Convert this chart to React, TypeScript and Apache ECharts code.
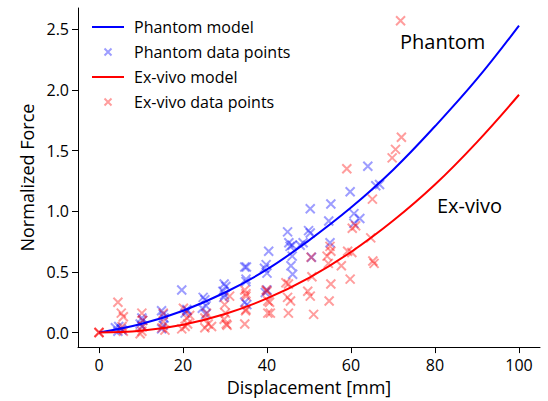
import React, { useEffect, useRef } from "react";
import * as echarts from "echarts";

const modelX = [0, 10, 20, 30, 40, 50, 60, 70, 80, 90, 100];
const phantomModel = [0, 0.07, 0.18, 0.33, 0.52, 0.76, 1.03, 1.34, 1.7, 2.09, 2.53];
const exvivoModel = [0, 0.015, 0.065, 0.153, 0.281, 0.451, 0.664, 0.921, 1.22, 1.57, 1.96];

const phantomPoints: [number, number][] = [
  [3.9, 0.04], [4.5, 0.01], [4.7, 0.05], [5.3, 0.03], [5.5, 0.02],
  [10.2, 0.12], [10.4, 0.1], [10.2, 0.05], [9.8, 0.07],
  [14.9, 0.18], [15.3, 0.15], [15.3, 0.06], [14.9, 0.03], [15.5, 0.12],
  [19.7, 0.35], [20.5, 0.16], [21, 0.18], [20.9, 0.19],
  [24.8, 0.29], [25.2, 0.27], [25.4, 0.15], [24.6, 0.2], [25.5, 0.22],
  [29.8, 0.4], [30.2, 0.38], [29.9, 0.31], [29.5, 0.34], [29.7, 0.29],
  [35.1, 0.54], [34.7, 0.54], [35, 0.44], [35, 0.42], [34.7, 0.25], [35.2, 0.23],
  [40.4, 0.67], [39.8, 0.56], [39.4, 0.53], [40, 0.49], [39.6, 0.33], [40, 0.35],
  [44.9, 0.83], [45.2, 0.74], [46, 0.72], [45.5, 0.71], [46, 0.63], [45.7, 0.55], [46.1, 0.48],
  [50.3, 1.02], [49.9, 0.84], [50.3, 0.82], [47.9, 0.72], [48.6, 0.74], [50.6, 0.62],
  [55.2, 1.06], [54.7, 0.92], [55, 0.74],
  [59.8, 1.16], [60.7, 0.98], [62.1, 0.94], [60.7, 0.9],
  [64, 1.37], [65.9, 1.21], [66.8, 1.22],
];

const exvivoPoints: [number, number][] = [
  [0, 0], [0, 0], [0, 0],
  [4.5, 0.25], [5.3, 0.16], [5.8, 0.13], [5.5, 0.05], [5.8, 0.01],
  [10.2, 0.16], [10.4, 0.1], [10.2, 0.01], [9.8, -0.01], [10.4, 0.05],
  [15.3, 0.09], [15, 0.04], [15.7, 0.02], [15.3, 0.16],
  [20.1, 0.2], [20.5, 0.05], [21.1, 0.07], [19.7, 0.03], [20.9, 0.12], [21.6, 0.14],
  [25.6, 0.16], [26, 0.07], [25.2, 0.04], [26.8, 0.05], [25.2, 0.12],
  [29.9, 0.23], [30.1, 0.16], [29.8, 0.11], [30.3, 0.07], [31.1, 0.3], [30.5, 0.06],
  [34.7, 0.35], [35, 0.32], [35, 0.19], [34.7, 0.07], [34.9, 0.18], [35, 0.3],
  [40, 0.34], [40.2, 0.26], [40.6, 0.25], [40.8, 0.16], [39.8, 0.35], [40.2, 0.16],
  [45.1, 0.4], [44.9, 0.29], [45.6, 0.26], [45.1, 0.16], [44.5, 0.41],
  [50.5, 0.62], [50.7, 0.46], [49.7, 0.34], [50.3, 0.3], [51.1, 0.15],
  [55, 0.71], [55.2, 0.67], [54.3, 0.63], [54.6, 0.57], [55.2, 0.4], [54.8, 0.26],
  [59, 1.35], [60.3, 0.86], [61.1, 0.88], [59.2, 0.67], [60.2, 0.66], [57.7, 0.55], [59.8, 0.44],
  [65.1, 1.1], [64.7, 0.78], [65.5, 0.57], [65.2, 0.59],
  [69.8, 1.44], [70.6, 1.51], [72, 1.61], [71.8, 2.57],
];

const xTicks = [0, 20, 40, 60, 80, 100];
const yTicks = [0, 0.5, 1.0, 1.5, 2.0, 2.5];

const FONT = "Open Sans";
const X_PATH = "path://M0,0L10,10M10,0L0,10";
const X_LEGEND = "path://M0,0M32,14M12.5,3.5L19.5,10.5M19.5,3.5L12.5,10.5";
const LINE_LEGEND = "path://M0,0M32,14M0,6L32,6L32,8L0,8Z";
const BLUE_PT = "rgba(0,0,255,0.48)";
const RED_PT = "rgba(255,0,0,0.48)";

export default function App() {
  const ref = useRef<HTMLDivElement>(null);
  useEffect(() => {
    document.body.style.margin = "0";
    if (!ref.current) return;
    const chart = echarts.init(ref.current, undefined, { renderer: "svg" });
    chart.setOption({
      animation: false,
      textStyle: { fontFamily: FONT },
      grid: { left: 78, right: 8, top: 8, bottom: 50, containLabel: false },
      legend: {
        orient: "vertical",
        left: 91,
        top: 19,
        padding: 0,
        itemWidth: 32,
        itemHeight: 14,
        itemGap: 9,
        textStyle: { fontFamily: FONT, fontSize: 16, color: "#000", padding: [0, 0, 0, 5], lineHeight: 14 },
        data: [
          { name: "Phantom model", icon: LINE_LEGEND, itemStyle: { color: "#0000ff" } },
          { name: "Phantom data points", icon: X_LEGEND },
          { name: "Ex-vivo model", icon: LINE_LEGEND, itemStyle: { color: "#ff0000" } },
          { name: "Ex-vivo data points", icon: X_LEGEND },
        ],
      },
      xAxis: {
        type: "value",
        min: -5,
        max: 105,
        name: "Displacement [mm]",
        nameLocation: "middle",
        nameGap: 21,
        nameTextStyle: { fontFamily: FONT, fontSize: 18, color: "#000" },
        splitLine: { show: false },
        axisLine: { show: true, onZero: false, lineStyle: { color: "#000", width: 1 } },
        axisTick: { show: true, length: 6, customValues: xTicks, lineStyle: { color: "#000" } },
        axisLabel: {
          customValues: xTicks,
          margin: 10,
          fontFamily: FONT,
          fontSize: 16,
          color: "#000",
          formatter: (v: number) => String(v),
        },
      },
      yAxis: {
        type: "value",
        min: -0.12,
        max: 2.675,
        name: "Normalized Force",
        nameLocation: "middle",
        nameGap: 42,
        nameTextStyle: { fontFamily: FONT, fontSize: 18, color: "#000" },
        splitLine: { show: false },
        axisLine: { show: true, onZero: false, lineStyle: { color: "#000", width: 1 } },
        axisTick: { show: true, length: 6, customValues: yTicks, lineStyle: { color: "#000" } },
        axisLabel: {
          customValues: yTicks,
          margin: 9,
          fontFamily: FONT,
          fontSize: 16,
          color: "#000",
          formatter: (v: number) => v.toFixed(1),
        },
      },
      graphic: [
        {
          type: "text",
          left: 400,
          top: 31,
          style: { text: "Phantom", fontFamily: FONT, fontSize: 20, fill: "#000" },
        },
        {
          type: "text",
          left: 437,
          top: 195,
          style: { text: "Ex-vivo", fontFamily: FONT, fontSize: 20, fill: "#000" },
        },
      ],
      series: [
        {
          name: "Phantom model",
          type: "line",
          data: modelX.map((x, i) => [x, phantomModel[i]]),
          smooth: 0.4,
          symbol: "none",
          lineStyle: { color: "#0000ff", width: 2 },
          itemStyle: { color: "#0000ff" },
        },
        {
          name: "Phantom data points",
          type: "scatter",
          data: phantomPoints,
          symbol: X_PATH,
          symbolSize: 9,
          itemStyle: { color: BLUE_PT, borderColor: BLUE_PT, borderWidth: 2 },
        },
        {
          name: "Ex-vivo model",
          type: "line",
          data: modelX.map((x, i) => [x, exvivoModel[i]]),
          smooth: 0.4,
          symbol: "none",
          lineStyle: { color: "#ff0000", width: 2 },
          itemStyle: { color: "#ff0000" },
        },
        {
          name: "Ex-vivo data points",
          type: "scatter",
          data: exvivoPoints,
          symbol: X_PATH,
          symbolSize: 9,
          itemStyle: { color: RED_PT, borderColor: RED_PT, borderWidth: 2 },
        },
      ],
    });
    return () => chart.dispose();
  }, []);
  return <div ref={ref} style={{ width: 548, height: 401 }} />;
}
